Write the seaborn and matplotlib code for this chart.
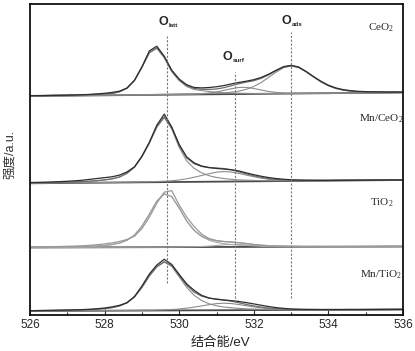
import numpy as np
import matplotlib
matplotlib.use("Agg")
import matplotlib.pyplot as plt
import seaborn as sns

# ---------------- data (heights above the background line, a.u.) ----------------
energy = np.round(np.arange(526.0, 536.01, 0.2), 1)

ceo2_raw = [0.3, 0.3, 0.3, 0.4, 0.4, 0.5, 0.6, 0.8, 1.0, 1.5,
            2.0, 2.8, 4.0, 7.0, 14.5, 28.0, 44.0, 48.6, 38.5, 24.5,
            15.5, 9.8, 7.0, 6.5, 6.8, 7.5, 8.6, 10.2, 11.6, 12.8,
            14.2, 16.4, 19.6, 23.5, 27.0, 28.2, 26.5, 22.0, 16.8, 12.0,
            8.0, 5.2, 3.4, 2.3, 1.6, 1.2, 1.0, 0.8, 0.6, 0.5, 0.4]
ceo2_latt = [0.2, 0.2, 0.2, 0.3, 0.3, 0.3, 0.4, 0.5, 0.6, 0.8,
             1.0, 1.6, 3.2, 6.8, 14.5, 27.5, 42.0, 46.5, 37.0, 23.0,
             14.0, 8.0, 5.0, 3.8, 2.8, 2.0, 1.5, 1.1, 0.8, 0.6,
             0.4, 0.3, 0.2, 0.1, 0, 0, 0, 0, 0, 0,
             0, 0, 0, 0, 0, 0, 0, 0, 0, 0, 0]
ceo2_surf = [0, 0, 0, 0, 0, 0, 0, 0, 0, 0,
             0, 0, 0, 0, 0, 0, 0.1, 0.1, 0.1, 0.2,
             0.2, 0.3, 0.4, 0.7, 1.3, 2.3, 3.8, 5.4, 6.6, 6.6,
             5.4, 3.8, 2.3, 1.3, 0.7, 0.4, 0.3, 0.2, 0.1, 0.1,
             0.1, 0, 0, 0, 0, 0, 0, 0, 0, 0, 0]
ceo2_ads = [0.2, 0.2, 0.2, 0.2, 0.2, 0.2, 0.2, 0.2, 0.3, 0.3,
            0.3, 0.3, 0.3, 0.3, 0.3, 0.3, 0.3, 0.3, 0.4, 0.4,
            0.45, 0.5, 0.55, 0.65, 0.8, 1.0, 1.2, 1.9, 2.9, 4.7,
            7.4, 11.4, 16.4, 21.6, 25.9, 27.5, 25.9, 21.6, 16.4, 11.4,
            7.4, 4.7, 2.9, 1.9, 1.2, 1.0, 0.8, 0.65, 0.55, 0.5, 0.45]

mnceo2_raw = [0.8, 0.9, 1.0, 1.2, 1.4, 1.7, 2.1, 2.6, 3.4, 4.2,
              5.0, 5.8, 7.4, 10.5, 15.5, 26.0, 40.0, 57.0, 68.0, 55.0,
              37.5, 25.0, 19.0, 15.8, 14.2, 13.2, 12.5, 11.8, 10.5, 8.5,
              6.6, 5.0, 3.6, 2.6, 1.8, 1.2, 0.9, 0.7, 0.5, 0.4,
              0.3, 0.3, 0.3, 0.2, 0.2, 0.2, 0.2, 0.1, 0.1, 0.1, 0.1]
mnceo2_latt = [0.3, 0.3, 0.4, 0.5, 0.6, 0.7, 0.9, 1.1, 1.4, 1.9,
               2.6, 3.6, 5.4, 9.0, 15.0, 25.5, 39.0, 55.0, 64.5, 53.0,
               34.5, 21.0, 13.5, 9.0, 6.0, 4.2, 3.0, 2.2, 1.6, 1.2,
               0.9, 0.7, 0.5, 0.4, 0.3, 0.2, 0.2, 0.1, 0.1, 0,
               0, 0, 0, 0, 0, 0, 0, 0, 0, 0, 0]
mnceo2_surf = [0.1, 0.1, 0.1, 0.1, 0.15, 0.15, 0.15, 0.2, 0.2, 0.2,
               0.2, 0.2, 0.2, 0.25, 0.3, 0.35, 0.45, 0.6, 0.9, 1.3,
               2.0, 3.1, 4.6, 6.3, 8.0, 9.5, 10.0, 9.5, 8.0, 6.3,
               4.6, 3.1, 2.0, 1.3, 0.9, 0.6, 0.45, 0.35, 0.3, 0.25,
               0.2, 0.2, 0.15, 0.15, 0.1, 0.1, 0.1, 0.1, 0.1, 0.1, 0.1]

tio2_raw = [0.5, 0.6, 0.7, 0.8, 0.9, 1.1, 1.3, 1.6, 2.0, 2.6,
            3.4, 4.4, 5.8, 7.8, 11.0, 18.5, 30.0, 44.0, 55.0, 56.5,
            42.0, 30.0, 20.5, 13.0, 8.5, 6.5, 5.5, 5.0, 4.3, 3.4,
            2.4, 1.7, 1.2, 0.9, 0.7, 0.5, 0.4, 0.3, 0.3, 0.2,
            0.2, 0.2, 0.1, 0.1, 0.1, 0.1, 0.1, 0.1, 0.1, 0.1, 0.1]
tio2_latt = [0.2, 0.2, 0.3, 0.3, 0.4, 0.5, 0.6, 0.8, 1.0, 1.4,
             1.9, 2.7, 4.2, 7.0, 12.0, 21.0, 33.0, 46.0, 53.3, 50.5,
             39.0, 26.0, 16.5, 10.5, 6.8, 4.6, 3.3, 2.4, 1.8, 1.4,
             1.0, 0.8, 0.6, 0.5, 0.4, 0.3, 0.3, 0.2, 0.2, 0.1,
             0.1, 0, 0, 0, 0, 0, 0, 0, 0, 0, 0]
tio2_surf = [0, 0, 0, 0, 0, 0, 0, 0, 0, 0,
             0, 0, 0, 0, 0, 0, 0, 0, 0, 0,
             0.1, 0.2, 0.3, 0.5, 0.9, 1.5, 2.1, 2.5, 2.4, 2.0,
             1.4, 0.8, 0.5, 0.3, 0.2, 0.1, 0, 0, 0, 0,
             0, 0, 0, 0, 0, 0, 0, 0, 0, 0, 0]

mntio2_raw = [0.3, 0.4, 0.5, 0.6, 0.7, 0.8, 1.0, 1.2, 1.5, 2.0,
              2.7, 3.8, 5.3, 7.8, 14.0, 24.5, 36.5, 45.5, 51.2, 46.0,
              36.0, 26.5, 20.0, 15.0, 12.3, 11.0, 10.2, 9.5, 8.7, 7.5,
              6.2, 4.8, 3.5, 2.4, 1.6, 1.0, 0.7, 0.5, 0.4, 0.3,
              0.3, 0.2, 0.2, 0.2, 0.1, 0.1, 0.1, 0.1, 0.1, 0.1, 0.1]
mntio2_latt = [0.2, 0.3, 0.3, 0.4, 0.5, 0.6, 0.7, 0.9, 1.1, 1.5,
               2.1, 3.0, 4.6, 7.8, 13.5, 23.0, 34.5, 43.5, 48.3, 44.0,
               33.5, 23.0, 15.0, 9.8, 6.5, 4.5, 3.2, 2.4, 1.8, 1.3,
               1.0, 0.8, 0.6, 0.4, 0.3, 0.2, 0.2, 0.1, 0.1, 0,
               0, 0, 0, 0, 0, 0, 0, 0, 0, 0, 0]
mntio2_surf = [0.1, 0.1, 0.1, 0.1, 0.1, 0.1, 0.1, 0.1, 0.1, 0.1,
               0.1, 0.1, 0.15, 0.2, 0.2, 0.25, 0.3, 0.4, 0.6, 0.9,
               1.4, 2.2, 3.2, 4.4, 5.6, 6.65, 7.0, 6.65, 5.6, 4.4,
               3.2, 2.2, 1.4, 0.9, 0.6, 0.4, 0.3, 0.25, 0.2, 0.2,
               0.15, 0.15, 0.1, 0.1, 0.1, 0.1, 0.1, 0.1, 0.1, 0.1, 0.1]

# background lines (offset of each spectrum at 526 and 536 eV)
base_ceo2 = [219.0, 222.5]
base_mnceo2 = [131.7, 135.0]
base_tio2 = [67.5, 68.5]
base_mntio2 = [4.0, 5.5]

panel_names = ["CeO$_2$", "Mn/CeO$_2$", "TiO$_2$", "Mn/TiO$_2$"]
panel_label_y = [287, 196, 112, 40]

# reference lines: position, top, bottom
ref_subs = ["latt", "surf", "ads"]
ref_pos = [529.66, 531.5, 533.0]
ref_top = [279.0, 243.0, 283.0]
ref_bottom = [32.0, 13.3, 16.7]
ref_label_x = [529.57, 531.29, 532.88]
ref_label_y = [293.3, 258.3, 294.3]

# ---------------- style ----------------
sns.set_style("white")
plt.rcParams["font.family"] = ["Liberation Sans", "Noto Sans CJK SC", "DejaVu Sans"]
plt.rcParams["mathtext.fontset"] = "custom"
plt.rcParams["mathtext.rm"] = "Liberation Serif"
plt.rcParams["mathtext.default"] = "rm"

fig = plt.figure(figsize=(4.15, 3.51), dpi=100)
ax = fig.add_axes([30 / 415, 1 - 315 / 351, 373 / 415, 310.7 / 351])


def draw_panel(raw, comps, base, dark):
    bg = np.interp(energy, [526.0, 536.0], base)
    comp_col = "#a8a8a8" if not dark else "#8c8c8c"
    env_col = "#a0a0a0" if not dark else "#6e6e6e"
    raw_col = "#9a9a9a" if not dark else "#2e2e2e"
    sns.lineplot(x=[526.0, 536.0], y=base, ax=ax, color="#4a4a4a", lw=1.3)
    for c in comps:
        sns.lineplot(x=energy, y=bg + np.array(c), ax=ax, color=comp_col, lw=0.8)
    env = bg + np.sum([np.array(c) for c in comps], axis=0)
    sns.lineplot(x=energy, y=env, ax=ax, color=env_col, lw=0.9)
    sns.lineplot(x=energy, y=bg + np.array(raw), ax=ax, color=raw_col, lw=0.9)


draw_panel(ceo2_raw, [ceo2_latt, ceo2_surf, ceo2_ads], base_ceo2, True)
draw_panel(mnceo2_raw, [mnceo2_latt, mnceo2_surf], base_mnceo2, True)
draw_panel(tio2_raw, [tio2_latt, tio2_surf], base_tio2, False)
draw_panel(mntio2_raw, [mntio2_latt, mntio2_surf], base_mntio2, True)

for x, top, bot in zip(ref_pos, ref_top, ref_bottom):
    ax.plot([x, x], [bot, top], color="#777777", lw=0.8, ls=(0, (2, 1.5)))

# "O" with a tiny bold subscript
for sub, x, y in zip(ref_subs, ref_label_x, ref_label_y):
    ax.text(x, y, "O", ha="center", va="center", fontsize=9, fontweight="bold")
    ax.annotate(sub, xy=(x, y), xytext=(3.6, -2.6), textcoords="offset points",
                ha="left", va="center", fontsize=4.5, fontweight="bold")

for name, y in zip(panel_names, panel_label_y):
    ax.text(535.42, y, name, ha="center", va="center", fontsize=8,
            family="Liberation Serif")

ax.set_xlim(526, 536)
ax.set_ylim(0, 310.7)
ax.set_xticks(np.arange(526, 537, 2))
ax.set_xticks(np.arange(527, 536, 2), minor=True)
ax.tick_params(axis="x", which="major", direction="in", length=4, width=0.8,
               labelsize=8.5, pad=3, bottom=True)
ax.tick_params(axis="x", which="minor", direction="in", length=2, width=0.8, bottom=True)
ax.set_yticks([])
ax.set_xlabel("")
ax.set_ylabel("")
for s in ax.spines.values():
    s.set_linewidth(1.3)
    s.set_color("#111111")

fig.text(10 / 415, 1 - 154 / 351, "强度/a.u.", rotation=90, ha="center", va="center",
         fontsize=9, color="#333333")
fig.text(220 / 415, 1 - 343 / 351, "结合能/eV", ha="center", va="center",
         fontsize=9.5, color="#222222")

fig.savefig("out.png", dpi=100)
